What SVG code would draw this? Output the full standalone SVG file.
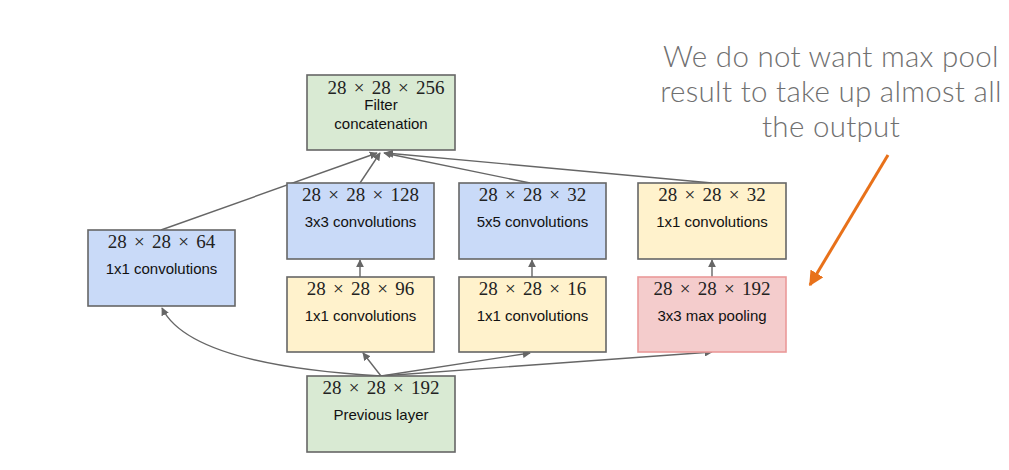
<svg xmlns="http://www.w3.org/2000/svg" width="1009" height="470" viewBox="0 0 1009 470">
<defs>
<style>
.box{stroke:#666;stroke-width:1.6}
.g{fill:#d9ead3}.b{fill:#c9daf8}.y{fill:#fff2cc}
.r{fill:#f4cccc;stroke:#ea9999;stroke-width:1.6}
.num{font-family:"Liberation Serif","DejaVu Serif",serif;font-size:19px;fill:#222;text-anchor:middle;word-spacing:2.5px}
.lbl{font-family:"Liberation Sans",Arial,sans-serif;font-size:15px;fill:#111;text-anchor:middle}
.c{fill:none;stroke:#666;stroke-width:1.4}
.note{font-family:Lato,"Open Sans",sans-serif;font-weight:300;font-size:29.5px;fill:#707070;text-anchor:middle;letter-spacing:0.3px}
</style>
<marker id="ah" viewBox="0 0 10 10" refX="9" refY="5" markerWidth="8" markerHeight="8" markerUnits="userSpaceOnUse" orient="auto">
<path d="M0,0 L10,5 L0,10 z" fill="#666"/>
</marker>
<marker id="oh" viewBox="0 0 10 10" refX="9" refY="5" markerWidth="5" markerHeight="5" orient="auto">
<path d="M0,0 L10,5 L0,10 z" fill="#e8711a"/>
</marker>
</defs>
<rect width="1009" height="470" fill="#fff"/>

<g id="connectors">
<line class="c" x1="161" y1="230" x2="377" y2="153" marker-end="url(#ah)"/>
<line class="c" x1="360" y1="183" x2="380" y2="153" marker-end="url(#ah)"/>
<line class="c" x1="530" y1="183" x2="384" y2="153" marker-end="url(#ah)"/>
<line class="c" x1="712" y1="183" x2="386" y2="153" marker-end="url(#ah)"/>
<line class="c" x1="360" y1="277" x2="360" y2="260" marker-end="url(#ah)"/>
<line class="c" x1="532" y1="277" x2="532" y2="260" marker-end="url(#ah)"/>
<line class="c" x1="712" y1="277" x2="712" y2="260" marker-end="url(#ah)"/>
<line class="c" x1="381" y1="376" x2="363" y2="353" marker-end="url(#ah)"/>
<line class="c" x1="381" y1="376" x2="530" y2="353" marker-end="url(#ah)"/>
<line class="c" x1="381" y1="376" x2="712" y2="352" marker-end="url(#ah)"/>
<path class="c" d="M381,376 Q190,365 162,308" marker-end="url(#ah)"/>
</g>

<g id="concat">
<rect class="box g" x="307" y="75" width="148" height="75"/>
<text class="num" x="386" y="94">28 × 28 × 256</text>
<text class="lbl" x="381" y="110">Filter</text>
<text class="lbl" x="381" y="129">concatenation</text>
</g>
<g id="conv3x3">
<rect class="box b" x="287" y="183" width="147" height="76"/>
<text class="num" x="360.5" y="201">28 × 28 × 128</text>
<text class="lbl" x="360.5" y="227">3x3 convolutions</text>
</g>
<g id="conv5x5">
<rect class="box b" x="459" y="183" width="147" height="76"/>
<text class="num" x="532.5" y="201">28 × 28 × 32</text>
<text class="lbl" x="532.5" y="227">5x5 convolutions</text>
</g>
<g id="conv1x1_pool">
<rect class="box y" x="638" y="183" width="148" height="76"/>
<text class="num" x="712" y="201">28 × 28 × 32</text>
<text class="lbl" x="712" y="227">1x1 convolutions</text>
</g>
<g id="conv1x1_left">
<rect class="box b" x="88" y="230" width="147" height="76"/>
<text class="num" x="161.5" y="248">28 × 28 × 64</text>
<text class="lbl" x="161.5" y="274">1x1 convolutions</text>
</g>
<g id="conv1x1_a">
<rect class="box y" x="287" y="277" width="147" height="75"/>
<text class="num" x="360.5" y="295">28 × 28 × 96</text>
<text class="lbl" x="360.5" y="321">1x1 convolutions</text>
</g>
<g id="conv1x1_b">
<rect class="box y" x="459" y="277" width="147" height="75"/>
<text class="num" x="532.5" y="295">28 × 28 × 16</text>
<text class="lbl" x="532.5" y="321">1x1 convolutions</text>
</g>
<g id="maxpool">
<rect class="r" x="638" y="277" width="148" height="75"/>
<text class="num" x="712" y="295">28 × 28 × 192</text>
<text class="lbl" x="712" y="321">3x3 max pooling</text>
</g>
<g id="previous">
<rect class="box g" x="307" y="376" width="148" height="76"/>
<text class="num" x="381" y="394">28 × 28 × 192</text>
<text class="lbl" x="381" y="420">Previous layer</text>
</g>

<g id="note">
<text class="note" x="831" y="67">We do not want max pool</text>
<text class="note" x="831" y="102">result to take up almost all</text>
<text class="note" x="831" y="137">the output</text>
<line x1="888" y1="155" x2="810" y2="285" stroke="#e8711a" stroke-width="3" marker-end="url(#oh)"/>
</g>
</svg>
